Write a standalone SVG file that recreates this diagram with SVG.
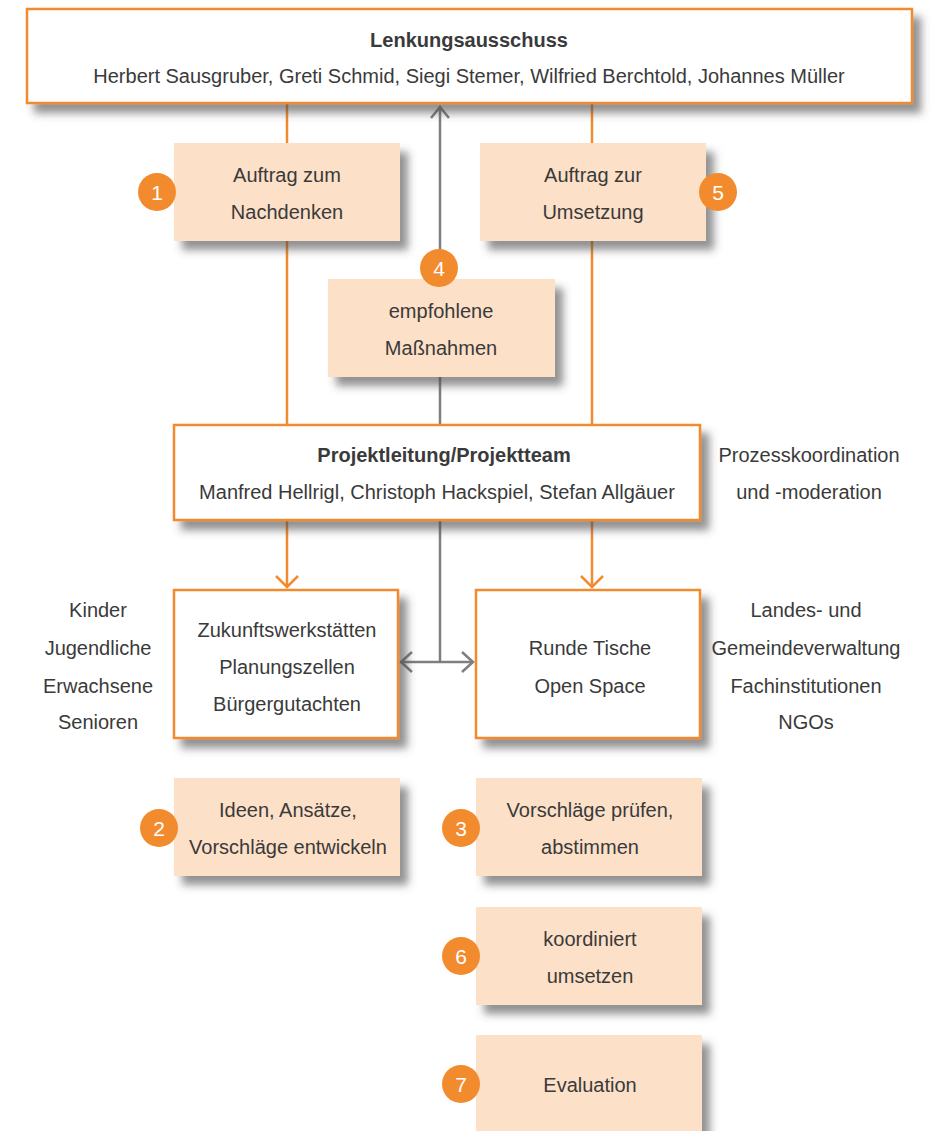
<svg xmlns="http://www.w3.org/2000/svg" width="941" height="1131" viewBox="0 0 941 1131">
<style>
text{font-family:"Liberation Sans",Arial,sans-serif;font-size:20px;fill:#3a3a3a;text-anchor:middle}
.b{font-weight:bold}
.main{fill:#fff;stroke:#f28a2e;stroke-width:2.5}
.peach{fill:#fde0c8}
.badge{fill:#f28a2e}
.num{fill:#fff;font-size:21px}
.o{stroke:#f28a2e;stroke-width:2.5;fill:none}
.g{stroke:#7f7f7f;stroke-width:2.5;fill:none}
</style>
<defs>
<filter id="sh" x="-10%" y="-20%" width="130%" height="160%">
<feDropShadow dx="8" dy="9" stdDeviation="4" flood-color="#4a4a4a" flood-opacity="0.6"/>
</filter>
</defs>
<rect width="941" height="1131" fill="#fff"/>
<g id="connectors">
<line class="o" x1="287" y1="103" x2="287" y2="425"/>
<line class="o" x1="592" y1="103" x2="592" y2="425"/>
<line class="g" x1="440" y1="107" x2="440" y2="425"/>
<polyline class="g" points="431,118 440,107 449,118"/>
<line class="o" x1="287" y1="520" x2="287" y2="587"/>
<polyline class="o" points="276,576 287,587 298,576"/>
<line class="o" x1="592" y1="520" x2="592" y2="587"/>
<polyline class="o" points="581,576 592,587 603,576"/>
<line class="g" x1="440" y1="520" x2="440" y2="662"/>
<line class="g" x1="401" y1="662" x2="473" y2="662"/>
<polyline class="g" points="412,652 401,662 412,672"/>
<polyline class="g" points="462,652 473,662 462,672"/>
</g>
<g id="lenkungsausschuss">
<rect class="main" x="27" y="9" width="885" height="94" filter="url(#sh)"/>
<text class="b" x="469" y="47">Lenkungsausschuss</text>
<text x="469" y="83">Herbert Sausgruber, Greti Schmid, Siegi Stemer, Wilfried Berchtold, Johannes Müller</text>
</g>
<g id="auftrag-nachdenken">
<rect class="peach" x="174" y="143" width="226" height="98" filter="url(#sh)"/>
<text x="287" y="182">Auftrag zum</text>
<text x="287" y="219">Nachdenken</text>
<circle class="badge" cx="157" cy="192" r="19"/>
<text class="num" x="157" y="200">1</text>
</g>
<g id="auftrag-umsetzung">
<rect class="peach" x="480" y="143" width="226" height="98" filter="url(#sh)"/>
<text x="593" y="182">Auftrag zur</text>
<text x="593" y="219">Umsetzung</text>
<circle class="badge" cx="718" cy="192" r="19"/>
<text class="num" x="718" y="200">5</text>
</g>
<g id="massnahmen">
<rect class="peach" x="328" y="279" width="227" height="98" filter="url(#sh)"/>
<text x="441" y="318">empfohlene</text>
<text x="441" y="355">Maßnahmen</text>
<circle class="badge" cx="439" cy="268" r="19"/>
<text class="num" x="439" y="276">4</text>
</g>
<g id="projektleitung">
<rect class="main" x="174" y="425" width="526" height="95" filter="url(#sh)"/>
<text class="b" x="444" y="462">Projektleitung/Projektteam</text>
<text x="437" y="499">Manfred Hellrigl, Christoph Hackspiel, Stefan Allgäuer</text>
</g>
<g id="prozess">
<text x="809" y="462">Prozesskoordination</text>
<text x="809" y="499">und -moderation</text>
</g>
<g id="werkstaetten">
<rect class="main" x="174" y="590" width="224" height="148" filter="url(#sh)"/>
<text x="287" y="637">Zukunftswerkstätten</text>
<text x="287" y="674">Planungszellen</text>
<text x="287" y="711">Bürgergutachten</text>
</g>
<g id="runde-tische">
<rect class="main" x="476" y="590" width="224" height="148" filter="url(#sh)"/>
<text x="590" y="655">Runde Tische</text>
<text x="590" y="693">Open Space</text>
</g>
<g id="zielgruppen">
<text x="98" y="617">Kinder</text>
<text x="98" y="655">Jugendliche</text>
<text x="98" y="693">Erwachsene</text>
<text x="98" y="729">Senioren</text>
</g>
<g id="verwaltung">
<text x="806" y="617">Landes- und</text>
<text x="806" y="655">Gemeindeverwaltung</text>
<text x="806" y="693">Fachinstitutionen</text>
<text x="806" y="729">NGOs</text>
</g>
<g id="ideen">
<rect class="peach" x="174" y="778" width="226" height="98" filter="url(#sh)"/>
<text x="288" y="817">Ideen, Ansätze,</text>
<text x="288" y="854">Vorschläge entwickeln</text>
<circle class="badge" cx="159" cy="828" r="19"/>
<text class="num" x="159" y="836">2</text>
</g>
<g id="pruefen">
<rect class="peach" x="476" y="778" width="226" height="98" filter="url(#sh)"/>
<text x="590" y="817">Vorschläge prüfen,</text>
<text x="590" y="854">abstimmen</text>
<circle class="badge" cx="461" cy="828" r="19"/>
<text class="num" x="461" y="836">3</text>
</g>
<g id="umsetzen">
<rect class="peach" x="476" y="907" width="226" height="98" filter="url(#sh)"/>
<text x="590" y="946">koordiniert</text>
<text x="590" y="983">umsetzen</text>
<circle class="badge" cx="461" cy="956" r="19"/>
<text class="num" x="461" y="964">6</text>
</g>
<g id="evaluation">
<rect class="peach" x="476" y="1035" width="226" height="110" filter="url(#sh)"/>
<text x="590" y="1092">Evaluation</text>
<circle class="badge" cx="461" cy="1084" r="19"/>
<text class="num" x="461" y="1092">7</text>
</g>
</svg>
